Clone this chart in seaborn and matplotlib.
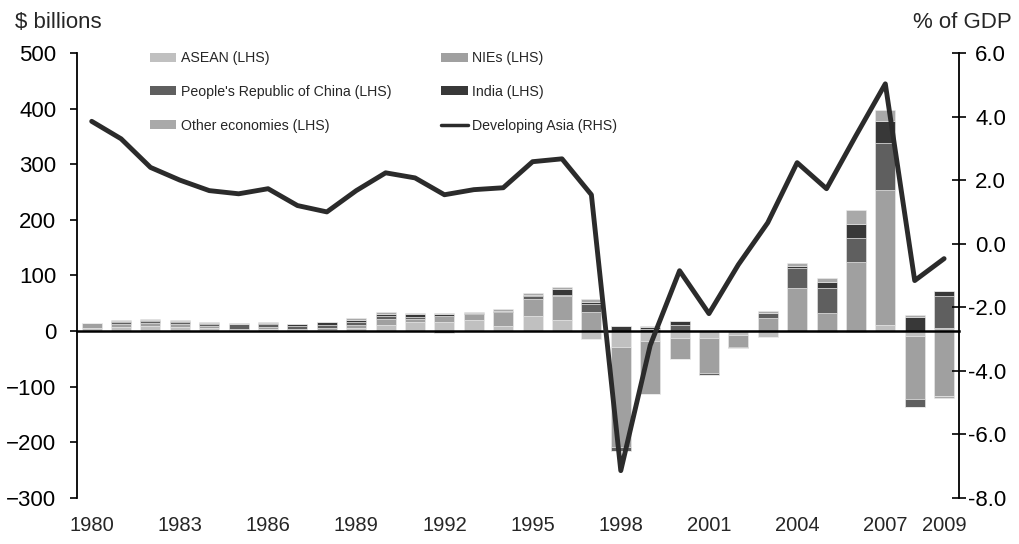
import numpy as np
import matplotlib
matplotlib.use('Agg')
import matplotlib.pyplot as plt
import matplotlib.transforms as mtransforms
from matplotlib.patches import Patch
from matplotlib.lines import Line2D
import seaborn as sns
import pandas as pd

sns.set_style('white')
plt.rcParams['font.family'] = ['Liberation Sans', 'DejaVu Sans']

years = list(range(1980, 2010))

# $ billions, stacked bars (LHS)
asean = [5, 7, 9, 8, 6, 2, 4, 2, 2, 6, 11, 16, 16, 20, 9, 27, 20, -14, -28, -17,
         -13, -12, -7, -11, 0, -2, -2, 11, -9, 6]
nies = [9, 6, 6, 4, 4, 2, 4, 2, 3, 5, 11, 5, 11, 11, 25, 31, 43, 34, -180, -96,
        -37, -63, -22, 24, 77, 33, 124, 243, -113, -117]
prc = [0, 4, 3, 5, 3, 9, 5, 5, 6, 5, 5, 5, -4, 0, 0, 5, 2, 14, -8, 4,
       11, -4, -2, 9, 36, 44, 44, 84, -15, 57]
india = [0, 1, 2, 1, 1, 0, 1, 3, 5, 4, 4, 5, 3, 1, 2, 2, 11, 5, 9, 3,
         8, 0, 0, 0, 4, 11, 25, 39, 25, 10]
other = [1, 2, 2, 2, 2, 1, 2, 1, 1, 3, 3, 2, 2, 2, 3, 3, 3, 4, 0, 2,
         0, 0, 0, 3, 6, 8, 25, 21, 4, -3]

# % of GDP (RHS)
dev_asia = [3.85, 3.3, 2.4, 2.0, 1.67, 1.57, 1.73, 1.2, 1.0, 1.67, 2.23, 2.07, 1.54, 1.7,
            1.76, 2.58, 2.67, 1.54, -7.14, -3.2, -0.85, -2.2, -0.66, 0.66, 2.55, 1.73,
            3.4, 5.03, -1.16, -0.47]

series = [
    ('ASEAN (LHS)', asean, '#c0c0c0'),
    ('NIEs (LHS)', nies, '#a0a0a0'),
    ("People's Republic of China (LHS)", prc, '#5f5f5f'),
    ('India (LHS)', india, '#383838'),
    ('Other economies (LHS)', other, '#a9a9a9'),
]
line_color = '#2b2b2b'

fig = plt.figure(figsize=(10.2, 5.44), dpi=100)
ax = fig.add_axes([0.0755, 0.0846, 0.8645, 0.818])

x = np.arange(len(years))
pos_base = np.zeros(len(years))
neg_base = np.zeros(len(years))
for name, vals, col in series:
    v = np.array(vals, dtype=float)
    pos = np.where(v > 0, v, 0)
    neg = np.where(v < 0, v, 0)
    ax.bar(x, pos, bottom=pos_base, width=0.68, color=col, edgecolor='#ececec', linewidth=0.4)
    ax.bar(x, neg, bottom=neg_base, width=0.68, color=col, edgecolor='#ececec', linewidth=0.4)
    pos_base += pos
    neg_base += neg

ax.set_xlim(-0.5, len(years) - 0.5)
ax.set_ylim(-300, 500)
ax.set_yticks(np.arange(-300, 501, 100))
ax.tick_params(axis='y', direction='out', length=5, width=1.2, pad=10, labelsize=16, colors='black')
ax.spines['top'].set_visible(False)
ax.spines['left'].set_linewidth(1.3)
ax.spines['left'].set_color('black')
ax.spines['right'].set_visible(False)
ax.spines['bottom'].set_position(('data', 0))
ax.spines['bottom'].set_linewidth(1.8)
ax.spines['bottom'].set_color('black')
ax.set_xticks(x[:-1] + 0.5)
ax.tick_params(axis='x', direction='out', length=5, width=1.2, labelbottom=False, colors='black')

trans = mtransforms.blended_transform_factory(ax.transData, ax.transAxes)
for i, yr in enumerate(years):
    if (yr - 1980) % 3 == 0 or yr == 2009:
        ax.text(i, -0.04, str(yr), transform=trans, ha='center', va='top', fontsize=14.5)

ax2 = ax.twinx()
df_line = pd.DataFrame({'x': x, 'y': dev_asia})
sns.lineplot(data=df_line, x='x', y='y', ax=ax2, color=line_color, linewidth=3.5)
ax2.set_ylim(-8, 6)
ax2.set_yticks(np.arange(-8, 6.1, 2))
ax2.set_yticklabels([f'{v:.1f}' for v in np.arange(-8, 6.1, 2)])
ax2.set_xlabel('')
ax2.set_ylabel('')
ax2.set_xlim(-0.5, len(years) - 0.5)
ax2.tick_params(axis='y', direction='inout', length=10, width=1.2, pad=29, labelsize=16, colors='black')
for lab in ax2.get_yticklabels():
    lab.set_horizontalalignment('right')
for s in ['top', 'bottom', 'left']:
    ax2.spines[s].set_visible(False)
ax2.spines['right'].set_linewidth(1.3)
ax2.spines['right'].set_color('black')

fig.text(0.015, 0.958, '$ billions', fontsize=16, ha='left', va='center')
fig.text(0.992, 0.958, '% of GDP', fontsize=16, ha='right', va='center')

h = {name: Patch(facecolor=col, edgecolor='none') for name, _, col in series}
line_handle = Line2D([], [], color=line_color, linewidth=2.5)
handles = [h['ASEAN (LHS)'], h["People's Republic of China (LHS)"], h['Other economies (LHS)'],
           h['NIEs (LHS)'], h['India (LHS)'], line_handle]
labels = ['ASEAN (LHS)', "People's Republic of China (LHS)", 'Other economies (LHS)',
          'NIEs (LHS)', 'India (LHS)', 'Developing Asia (RHS)']
leg = ax2.legend(handles, labels, ncol=2, loc='upper left', bbox_to_anchor=(143 / 1020, 1 - 44 / 544),
                 bbox_transform=fig.transFigure, frameon=False, fontsize=10.2,
                 handlelength=1.85, handleheight=0.6, handletextpad=0.35,
                 labelspacing=1.4, columnspacing=3.5, borderpad=0)

fig.savefig('out.png', dpi=100)
